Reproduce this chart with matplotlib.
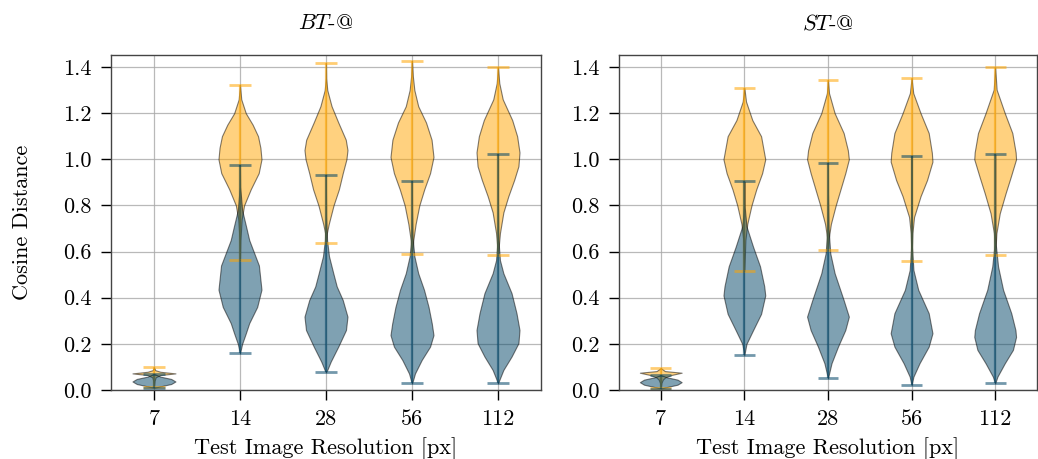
import numpy as np
import matplotlib.pyplot as plt

plt.rcParams['font.family'] = 'serif'
plt.rcParams['font.serif'] = ['cmr10', 'DejaVu Serif']
plt.rcParams['mathtext.fontset'] = 'cm'
plt.rcParams['axes.formatter.use_mathtext'] = True
plt.rcParams['font.size'] = 16

resolutions = ['7', '14', '28', '56', '112']
titles = [r'$BT$-@', r'$ST$-@']

# BT-@ : blue (positive pairs)
bt_blue_coords = [
    [0.009, 0.016, 0.026, 0.037, 0.048, 0.058, 0.07],
    [0.159, 0.20, 0.245, 0.29, 0.36, 0.435, 0.54, 0.65, 0.71, 0.78, 0.88, 0.975],
    [0.077, 0.087, 0.123, 0.188, 0.26, 0.318, 0.39, 0.449, 0.506, 0.58, 0.65, 0.75, 0.85, 0.933],
    [0.029, 0.043, 0.072, 0.13, 0.188, 0.238, 0.289, 0.36, 0.434, 0.506, 0.58, 0.66, 0.78, 0.905],
    [0.029, 0.05, 0.087, 0.145, 0.203, 0.26, 0.333, 0.42, 0.506, 0.563, 0.65, 0.8, 1.021],
]
bt_blue_vals = [
    [0, 0.3, 0.8, 1.0, 0.8, 0.3, 0],
    [0, 0.1, 0.27, 0.43, 0.8, 1.0, 0.88, 0.43, 0.28, 0.1, 0.01, 0],
    [0, 0.06, 0.22, 0.57, 0.93, 1.0, 0.78, 0.5, 0.34, 0.14, 0.05, 0.01, 0.003, 0],
    [0, 0.05, 0.14, 0.45, 0.84, 1.0, 0.92, 0.77, 0.56, 0.29, 0.11, 0.03, 0.005, 0],
    [0, 0.09, 0.25, 0.63, 0.95, 1.0, 0.86, 0.63, 0.25, 0.09, 0.02, 0.003, 0],
]
bt_blue_min = [0.009, 0.159, 0.077, 0.029, 0.029]
bt_blue_max = [0.07, 0.975, 0.933, 0.905, 1.021]

# BT-@ : orange (negative pairs)
bt_orange_coords = [
    [0.013, 0.04, 0.055, 0.065, 0.072, 0.079, 0.086, 0.098],
    [0.564, 0.65, 0.74, 0.80, 0.87, 0.94, 1.0, 1.05, 1.10, 1.15, 1.2, 1.26, 1.323],
    [0.636, 0.68, 0.72, 0.80, 0.87, 0.94, 1.0, 1.04, 1.085, 1.16, 1.23, 1.30, 1.35, 1.416],
    [0.589, 0.65, 0.72, 0.80, 0.87, 0.94, 1.01, 1.085, 1.16, 1.23, 1.30, 1.36, 1.427],
    [0.586, 0.68, 0.77, 0.84, 0.91, 0.97, 1.03, 1.10, 1.17, 1.26, 1.33, 1.398],
]
bt_orange_vals = [
    [0, 0.03, 0.08, 0.3, 1.0, 0.3, 0.06, 0],
    [0, 0.02, 0.08, 0.19, 0.5, 0.87, 1.0, 0.95, 0.84, 0.59, 0.27, 0.06, 0],
    [0, 0.04, 0.13, 0.35, 0.6, 0.78, 0.95, 1.0, 0.92, 0.57, 0.26, 0.06, 0.01, 0],
    [0, 0.06, 0.17, 0.34, 0.57, 0.84, 1.0, 0.91, 0.65, 0.29, 0.11, 0.04, 0],
    [0, 0.09, 0.25, 0.48, 0.75, 0.95, 1.0, 0.89, 0.66, 0.22, 0.06, 0],
]
bt_orange_min = [0.013, 0.564, 0.636, 0.589, 0.586]
bt_orange_max = [0.098, 1.323, 1.416, 1.427, 1.398]

# ST-@ : blue
st_blue_coords = [
    [0.006, 0.013, 0.023, 0.034, 0.045, 0.055, 0.065],
    [0.152, 0.2, 0.26, 0.33, 0.41, 0.45, 0.536, 0.62, 0.71, 0.8, 0.904],
    [0.051, 0.116, 0.188, 0.26, 0.318, 0.39, 0.506, 0.593, 0.7, 0.85, 0.986],
    [0.022, 0.058, 0.116, 0.188, 0.246, 0.333, 0.434, 0.52, 0.62, 0.8, 1.015],
    [0.029, 0.058, 0.116, 0.174, 0.23, 0.26, 0.333, 0.434, 0.535, 0.63, 0.8, 1.021],
]
st_blue_vals = [
    [0, 0.3, 0.8, 1.0, 0.8, 0.3, 0],
    [0, 0.1, 0.42, 0.8, 1.0, 0.95, 0.75, 0.42, 0.1, 0.01, 0],
    [0, 0.17, 0.48, 0.83, 1.0, 0.75, 0.32, 0.11, 0.03, 0.005, 0],
    [0, 0.09, 0.38, 0.82, 1.0, 0.82, 0.32, 0.09, 0.02, 0.003, 0],
    [0, 0.11, 0.46, 0.85, 1.0, 0.97, 0.77, 0.38, 0.14, 0.03, 0.003, 0],
]
st_blue_min = [0.006, 0.152, 0.051, 0.022, 0.029]
st_blue_max = [0.065, 0.904, 0.986, 1.015, 1.021]

# ST-@ : orange
st_orange_coords = [
    [0.01, 0.03, 0.045, 0.055, 0.065, 0.075, 0.082, 0.095],
    [0.516, 0.65, 0.72, 0.80, 0.87, 0.94, 1.0, 1.10, 1.17, 1.25, 1.309],
    [0.606, 0.66, 0.72, 0.80, 0.87, 0.94, 1.0, 1.04, 1.114, 1.2, 1.287, 1.343],
    [0.561, 0.68, 0.75, 0.84, 0.91, 0.99, 1.029, 1.114, 1.2, 1.287, 1.351],
    [0.586, 0.68, 0.766, 0.853, 0.925, 1.0, 1.03, 1.114, 1.2, 1.302, 1.398],
]
st_orange_vals = [
    [0, 0.03, 0.1, 0.22, 0.5, 1.0, 0.2, 0],
    [0, 0.05, 0.14, 0.34, 0.57, 0.85, 1.0, 0.8, 0.38, 0.08, 0],
    [0, 0.04, 0.14, 0.37, 0.6, 0.83, 1.0, 0.95, 0.75, 0.32, 0.05, 0],
    [0, 0.04, 0.12, 0.43, 0.74, 1.0, 0.97, 0.82, 0.43, 0.08, 0],
    [0, 0.06, 0.22, 0.5, 0.75, 1.0, 0.98, 0.82, 0.46, 0.07, 0],
]
st_orange_min = [0.01, 0.516, 0.606, 0.561, 0.586]
st_orange_max = [0.095, 1.309, 1.343, 1.351, 1.398]

BLUE = '#004466'
ORANGE = '#ffa500'


def draw(ax, coords, vals, mins, maxs, color):
    stats = []
    for c, v, lo, hi in zip(coords, vals, mins, maxs):
        stats.append(dict(coords=c, vals=v, mean=0.0, median=0.0, min=lo, max=hi))
    pos = np.arange(1, len(stats) + 1)
    parts = ax.violin(stats, positions=pos, widths=0.5, showextrema=True)
    for b in parts['bodies']:
        b.set_facecolor(color)
        b.set_edgecolor('black')
        b.set_alpha(0.5)
        b.set_linewidth(0.8)
    for k in ('cmins', 'cmaxes', 'cbars'):
        parts[k].set_color(color)
        parts[k].set_alpha(0.55)
    parts['cmins'].set_linewidth(2)
    parts['cmaxes'].set_linewidth(2)
    parts['cbars'].set_linewidth(1.6)


fig = plt.figure(figsize=(10.38, 4.59), dpi=100)
ax1 = fig.add_axes([0.1069, 0.1503, 0.4143, 0.7288])
ax2 = fig.add_axes([0.5963, 0.1503, 0.4027, 0.7288])

panels = [
    (ax1, bt_blue_coords, bt_blue_vals, bt_blue_min, bt_blue_max,
     bt_orange_coords, bt_orange_vals, bt_orange_min, bt_orange_max),
    (ax2, st_blue_coords, st_blue_vals, st_blue_min, st_blue_max,
     st_orange_coords, st_orange_vals, st_orange_min, st_orange_max),
]

for i, (ax, bc, bv, bmin, bmax, oc, ov, omin, omax) in enumerate(panels):
    draw(ax, oc, ov, omin, omax, ORANGE)
    draw(ax, bc, bv, bmin, bmax, BLUE)
    ax.set_xlim(0.5, 5.5)
    ax.set_ylim(0, 1.45)
    ax.set_xticks(np.arange(1, 6))
    ax.set_xticklabels(resolutions)
    ax.set_yticks(np.arange(0, 1.41, 0.2))
    ax.yaxis.set_major_formatter(plt.FormatStrFormatter('%.1f'))
    ax.grid(True, color='#a8a8a8', linewidth=0.9, alpha=0.8)
    ax.set_axisbelow(True)
    for s in ax.spines.values():
        s.set_color('#444444')
        s.set_linewidth(1.0)
    ax.tick_params(length=7, width=1.0, pad=7, labelsize=16)
    ax.set_title(titles[i], fontsize=16, pad=19)
    ax.set_xlabel('Test Image Resolution [px]', fontsize=16, labelpad=6)

ax1.set_ylabel('Cosine Distance', fontsize=16, labelpad=22)

fig.savefig('out.png', dpi=100)
